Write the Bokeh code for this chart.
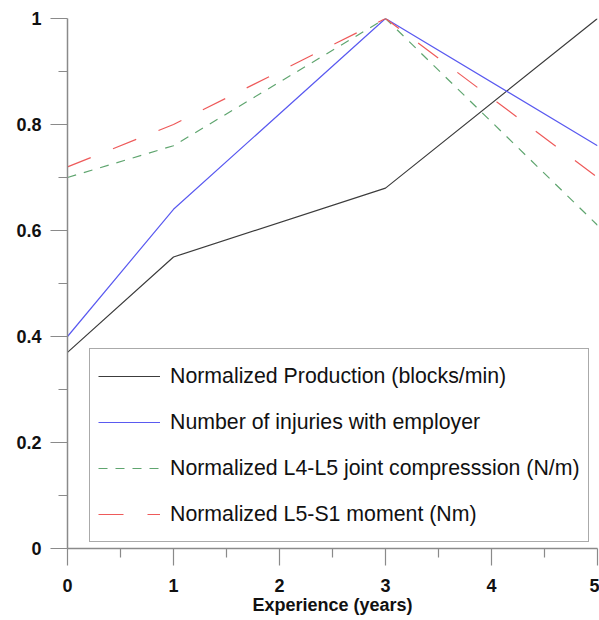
from bokeh.plotting import figure
from bokeh.models import Range1d, Legend, LegendItem, FixedTicker
from bokeh.embed import file_html
from bokeh.resources import INLINE

# ---- data ----
experience = [0, 1, 3, 5]
production = [0.37, 0.55, 0.68, 1.0]
injuries = [0.40, 0.64, 1.0, 0.76]
l4l5_compression = [0.70, 0.76, 1.0, 0.61]
l5s1_moment = [0.72, 0.80, 1.0, 0.70]

series_labels = [
    "Normalized Production (blocks/min)",
    "Number of injuries with employer",
    "Normalized L4-L5 joint compresssion (N/m)",
    "Normalized L5-S1 moment (Nm)",
]
x_ticks = [0, 1, 2, 3, 4, 5]
x_minor = [0.5, 1.5, 2.5, 3.5, 4.5]
y_ticks = [0, 0.2, 0.4, 0.6, 0.8, 1.0]
y_minor = [0.1, 0.3, 0.5, 0.7, 0.9]
y_tick_labels = ["0", "0.2", "0.4", "0.6", "0.8", "1"]
x_title = "Experience (years)"

# ---- figure ----
p = figure(width=599, height=620, output_backend="svg", toolbar_location=None,
           x_range=Range1d(0, 5), y_range=Range1d(0, 1),
           min_border_left=67, min_border_right=2, min_border_top=18,
           min_border_bottom=72)
p.outline_line_color = None
p.xgrid.visible = False
p.ygrid.visible = False
p.background_fill_color = "white"
p.border_fill_color = "white"

colors = ["#3c3c3c", "#5a5af0", "#5fa56f", "#ee5a5a"]
dashes = ["solid", "solid", "9 8", "25 24"]
series = [production, injuries, l4l5_compression, l5s1_moment]

renderers = []
for ys, c, d in zip(series, colors, dashes):
    r = p.line(experience, ys, line_color=c, line_width=1.2, line_dash=d)
    renderers.append(r)

# axes
for ax in (p.xaxis[0], p.yaxis[0]):
    ax.axis_line_color = "#8a8a8a"
    ax.axis_line_width = 1.5
    ax.major_tick_line_color = "#8a8a8a"
    ax.minor_tick_line_color = "#8a8a8a"
    ax.major_tick_line_width = 1.2
    ax.minor_tick_line_width = 1.2
    ax.major_tick_in = 0
    ax.minor_tick_in = 0
    ax.major_tick_out = 17
    ax.minor_tick_out = 9
    ax.major_label_text_font = "Liberation Sans"
    ax.major_label_text_font_style = "bold"
    ax.major_label_text_font_size = "18px"
    ax.major_label_text_color = "#111111"

p.xaxis[0].ticker = FixedTicker(ticks=x_ticks, minor_ticks=x_minor)
p.yaxis[0].ticker = FixedTicker(ticks=y_ticks, minor_ticks=y_minor)
p.yaxis[0].major_label_overrides = {t: l for t, l in zip(y_ticks, y_tick_labels)}
p.xaxis[0].major_label_overrides = {t: str(t) for t in x_ticks}
p.yaxis[0].major_label_standoff = 9
p.xaxis[0].major_label_standoff = 13

p.xaxis[0].axis_label = x_title
p.xaxis[0].axis_label_text_font = "Liberation Sans"
p.xaxis[0].axis_label_text_font_style = "bold"
p.xaxis[0].axis_label_text_font_size = "18px"
p.xaxis[0].axis_label_text_color = "#111111"
p.xaxis[0].axis_label_standoff = 0

legend = Legend(
    items=[LegendItem(label=l, renderers=[r]) for l, r in zip(series_labels, renderers)],
    location=(22, 6),
    glyph_width=62, glyph_height=38, label_height=38,
    label_standoff=10, spacing=8, padding=8, margin=0,
    label_text_font="Liberation Sans", label_text_font_size="21.3px",
    label_text_color="#111111",
    border_line_color="#555555", border_line_width=1.2,
    background_fill_color="white", background_fill_alpha=1.0,
)
p.add_layout(legend)

open("out.html", "w").write(file_html(p, INLINE))
